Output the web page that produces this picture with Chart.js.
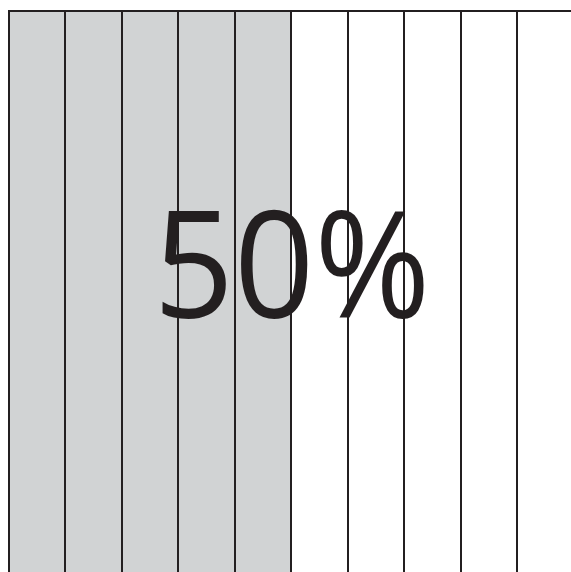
<!DOCTYPE html>
<html>
<head>
<meta charset="utf-8">
<script src="https://cdn.jsdelivr.net/npm/chart.js@4"></script>
<style>
  html, body { margin: 0; padding: 0; background: #fff; overflow: hidden; }
  #wrap { position: absolute; left: 0; top: 0; width: 582px; height: 600px; }
</style>
</head>
<body>
<div id="wrap"><canvas id="gauge"></canvas></div>
<script>
// ten strips, share filled in grey
const cells = ['1', '2', '3', '4', '5', '6', '7', '8', '9', '10'];
const percent = 50;
const label = percent + '%';

const filledColor = '#d1d3d4';
const inkColor = '#231f20';

const cellValues = cells.map(() => 1);
const cellColors = cells.map((c, i) => ((i + 1) * 100 / cells.length <= percent ? filledColor : 'rgba(0,0,0,0)'));

const centerLabel = {
  id: 'centerLabel',
  afterDraw(chart) {
    const ctx = chart.ctx;
    const xs = chart.scales.x;
    const cx = (xs.left + xs.right) / 2 + 1;
    ctx.save();
    ctx.font = '148px "Open Sans"';
    ctx.fillStyle = inkColor;
    ctx.textAlign = 'center';
    ctx.textBaseline = 'alphabetic';
    const w = ctx.measureText(label).width;
    ctx.translate(cx, 318);
    ctx.scale(277 / w, 1);
    ctx.fillText(label, 0, 0);
    ctx.restore();
  }
};

new Chart(document.getElementById('gauge'), {
  type: 'bar',
  data: {
    labels: cells,
    datasets: [{
      data: cellValues,
      backgroundColor: cellColors,
      borderWidth: 0,
      barPercentage: 1,
      categoryPercentage: 1
    }]
  },
  options: {
    responsive: true,
    maintainAspectRatio: false,
    animation: false,
    events: [],
    layout: { padding: { left: 8.5, top: 11, right: 8.5, bottom: 0 } },
    plugins: { legend: { display: false }, tooltip: { enabled: false } },
    scales: {
      x: {
        position: 'top',
        offset: true,
        grid: { z: 1, offset: true, color: inkColor, lineWidth: 2, drawTicks: false },
        border: { z: 1, display: true, color: inkColor, width: 2 },
        ticks: { display: false }
      },
      y: {
        display: false,
        min: 0,
        max: 1
      }
    }
  },
  plugins: [centerLabel]
});
</script>
</body>
</html>
